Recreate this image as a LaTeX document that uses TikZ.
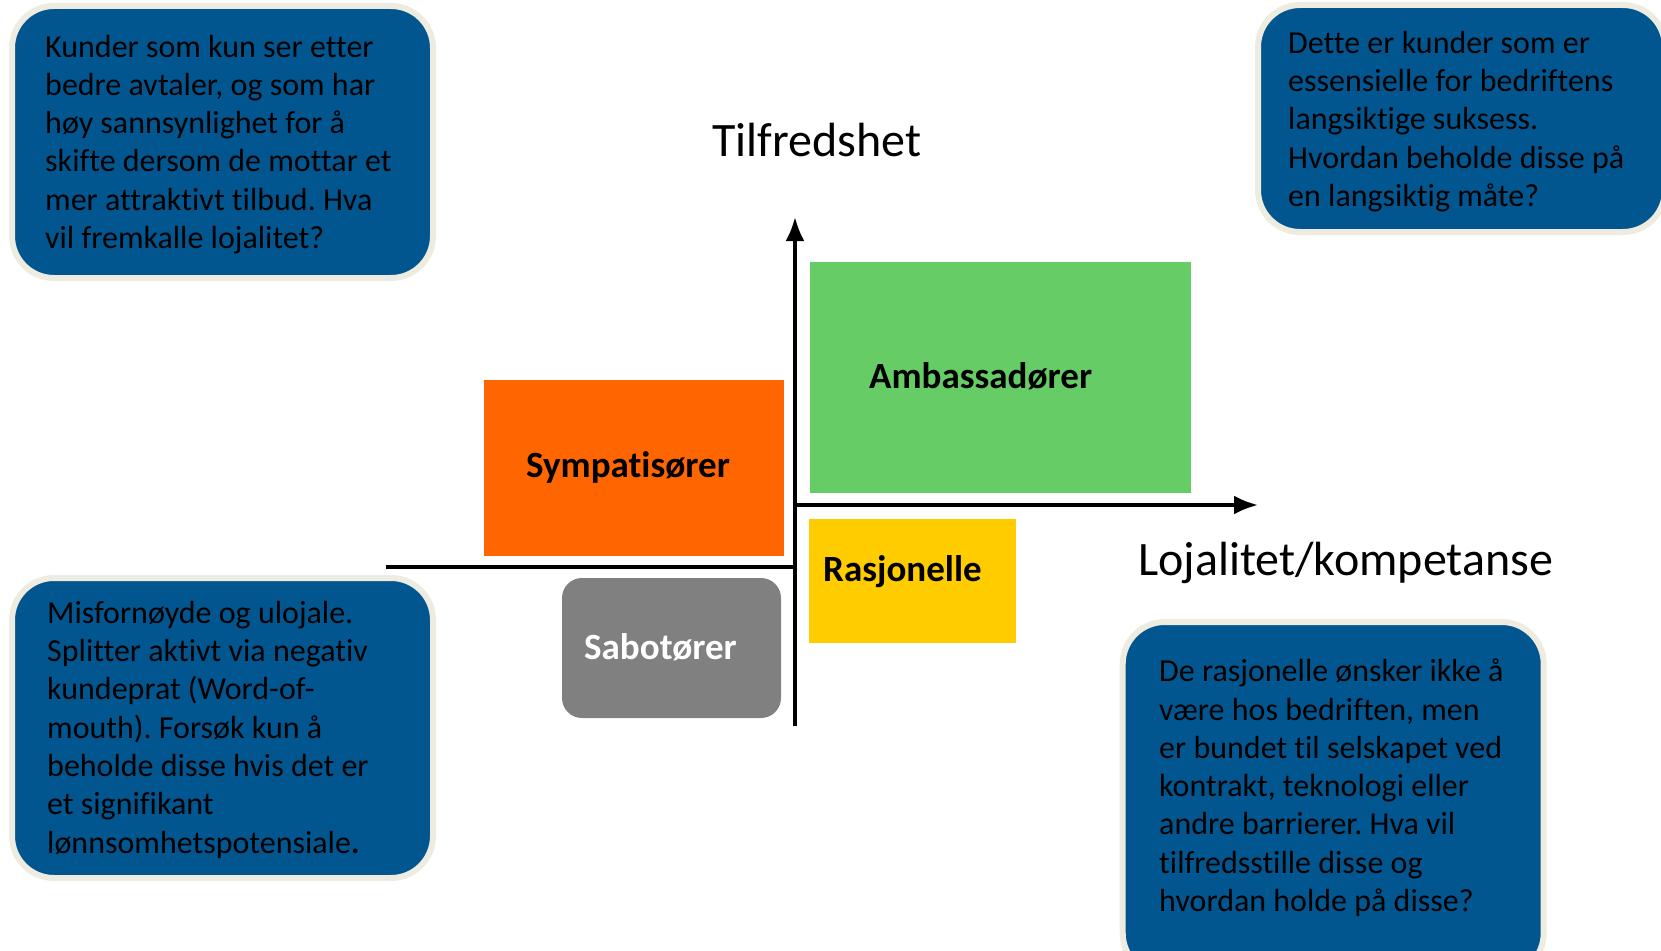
\documentclass[tikz,border=0pt]{standalone}
\usepackage{fontspec}
\setmainfont[Ligatures={NoCommon}]{Carlito}
\frenchspacing
\usetikzlibrary{arrows.meta}
\definecolor{boxblue}{RGB}{2,86,143}
\definecolor{boxcream}{RGB}{238,236,225}
\definecolor{qorange}{RGB}{255,102,0}
\definecolor{qgreen}{RGB}{102,204,102}
\definecolor{qyellow}{RGB}{255,204,0}
\definecolor{qgray}{RGB}{128,128,128}
\begin{document}
\begin{tikzpicture}[x=1pt,y=-1pt,
  tbox/.style={draw=boxcream, line width=6pt, fill=boxblue, rounded corners=42pt, inner sep=0pt, outer sep=0pt},
  ttext/.style={anchor=base west, align=left, inner sep=0pt, font=\frenchspacing\fontsize{32}{38.3}\selectfont},
  quad/.style={inner sep=0pt, outer sep=0pt, draw=none},
  qlabel/.style={anchor=base west, inner sep=0pt, font=\bfseries\fontsize{37}{40}\selectfont},
  axlabel/.style={anchor=base west, inner sep=0pt, font=\fontsize{48}{52}\selectfont},
  axis/.style={line width=3.5pt, -{Latex[length=24pt,width=19pt]}},
  plain/.style={line width=3.5pt}]
\useasboundingbox (0,0) rectangle (1661,950);
\fill[white] (0,0) rectangle (1661,950);
% text boxes
\node[tbox, minimum width=421pt, minimum height=272pt] (tl) at (222.5,142) {};
\node[tbox, minimum width=407pt, minimum height=227pt] (tr) at (1461.5,118.5) {};
\node[tbox, minimum width=421pt, minimum height=300pt] (bl) at (222.5,728) {};
\node[tbox, minimum width=421pt, minimum height=353pt] (br) at (1333.2,798.5) {};
\node[ttext] (tltext) at (45,248.5) {Kunder som kun ser etter\\bedre avtaler, og som har\\høy sannsynlighet for å\\skifte dersom de mottar et\\mer attraktivt tilbud. Hva\\vil fremkalle lojalitet?};
\node[ttext] (trtext) at (1288,206.5) {Dette er kunder som er\\essensielle for bedriftens\\langsiktige suksess.\\Hvordan beholde disse på\\en langsiktig måte?};
\node[ttext] (bltext) at (47,853) {Misfornøyde og ulojale.\\Splitter aktivt via negativ\\kundeprat (Word-of-\\mouth). Forsøk kun å\\beholde disse hvis det er\\et signifikant\\lønnsomhetspotensiale\textbf{.}};
\node[ttext] (brtext) at (1159,911.5) {De rasjonelle ønsker ikke å\\være hos bedriften, men\\er bundet til selskapet ved\\kontrakt, teknologi eller\\andre barrierer. Hva vil\\tilfredsstille disse og\\hvordan holde på disse?};
% quadrants
\node[quad, fill=qgreen, minimum width=381pt, minimum height=231pt] (amb) at (1000.5,377.5) {};
\node[quad, fill=qorange, minimum width=300pt, minimum height=176pt] (sym) at (634,468) {};
\node[quad, fill=qyellow, minimum width=207pt, minimum height=124pt] (ras) at (912.5,581) {};
\node[quad, fill=qgray, rounded corners=20pt, minimum width=219pt, minimum height=140pt] (sab) at (671.5,648) {};
\node[qlabel] (ambl) at (869,388) {Ambassadører};
\node[qlabel] (syml) at (526,477) {Sympatisører};
\node[qlabel] (rasl) at (823,581) {Rasjonelle};
\node[qlabel, text=white] (sabl) at (584,659) {Sabotører};
% axes
\coordinate (o) at (795,726);
\coordinate (ytip) at (795,217);
\coordinate (xstart) at (795,505);
\coordinate (xtip) at (1258,505);
\coordinate (lstart) at (386,567);
\coordinate (lend) at (796.75,567);
\draw[axis] (o) -- (ytip);
\draw[axis] (xstart) -- (xtip);
\draw[plain] (lstart) -- (lend);
\node[axlabel] (ylab) at (712,156) {Tilfredshet};
\node[axlabel] (xlab) at (1138,575) {Lojalitet/kompetanse};
\end{tikzpicture}
\end{document}
